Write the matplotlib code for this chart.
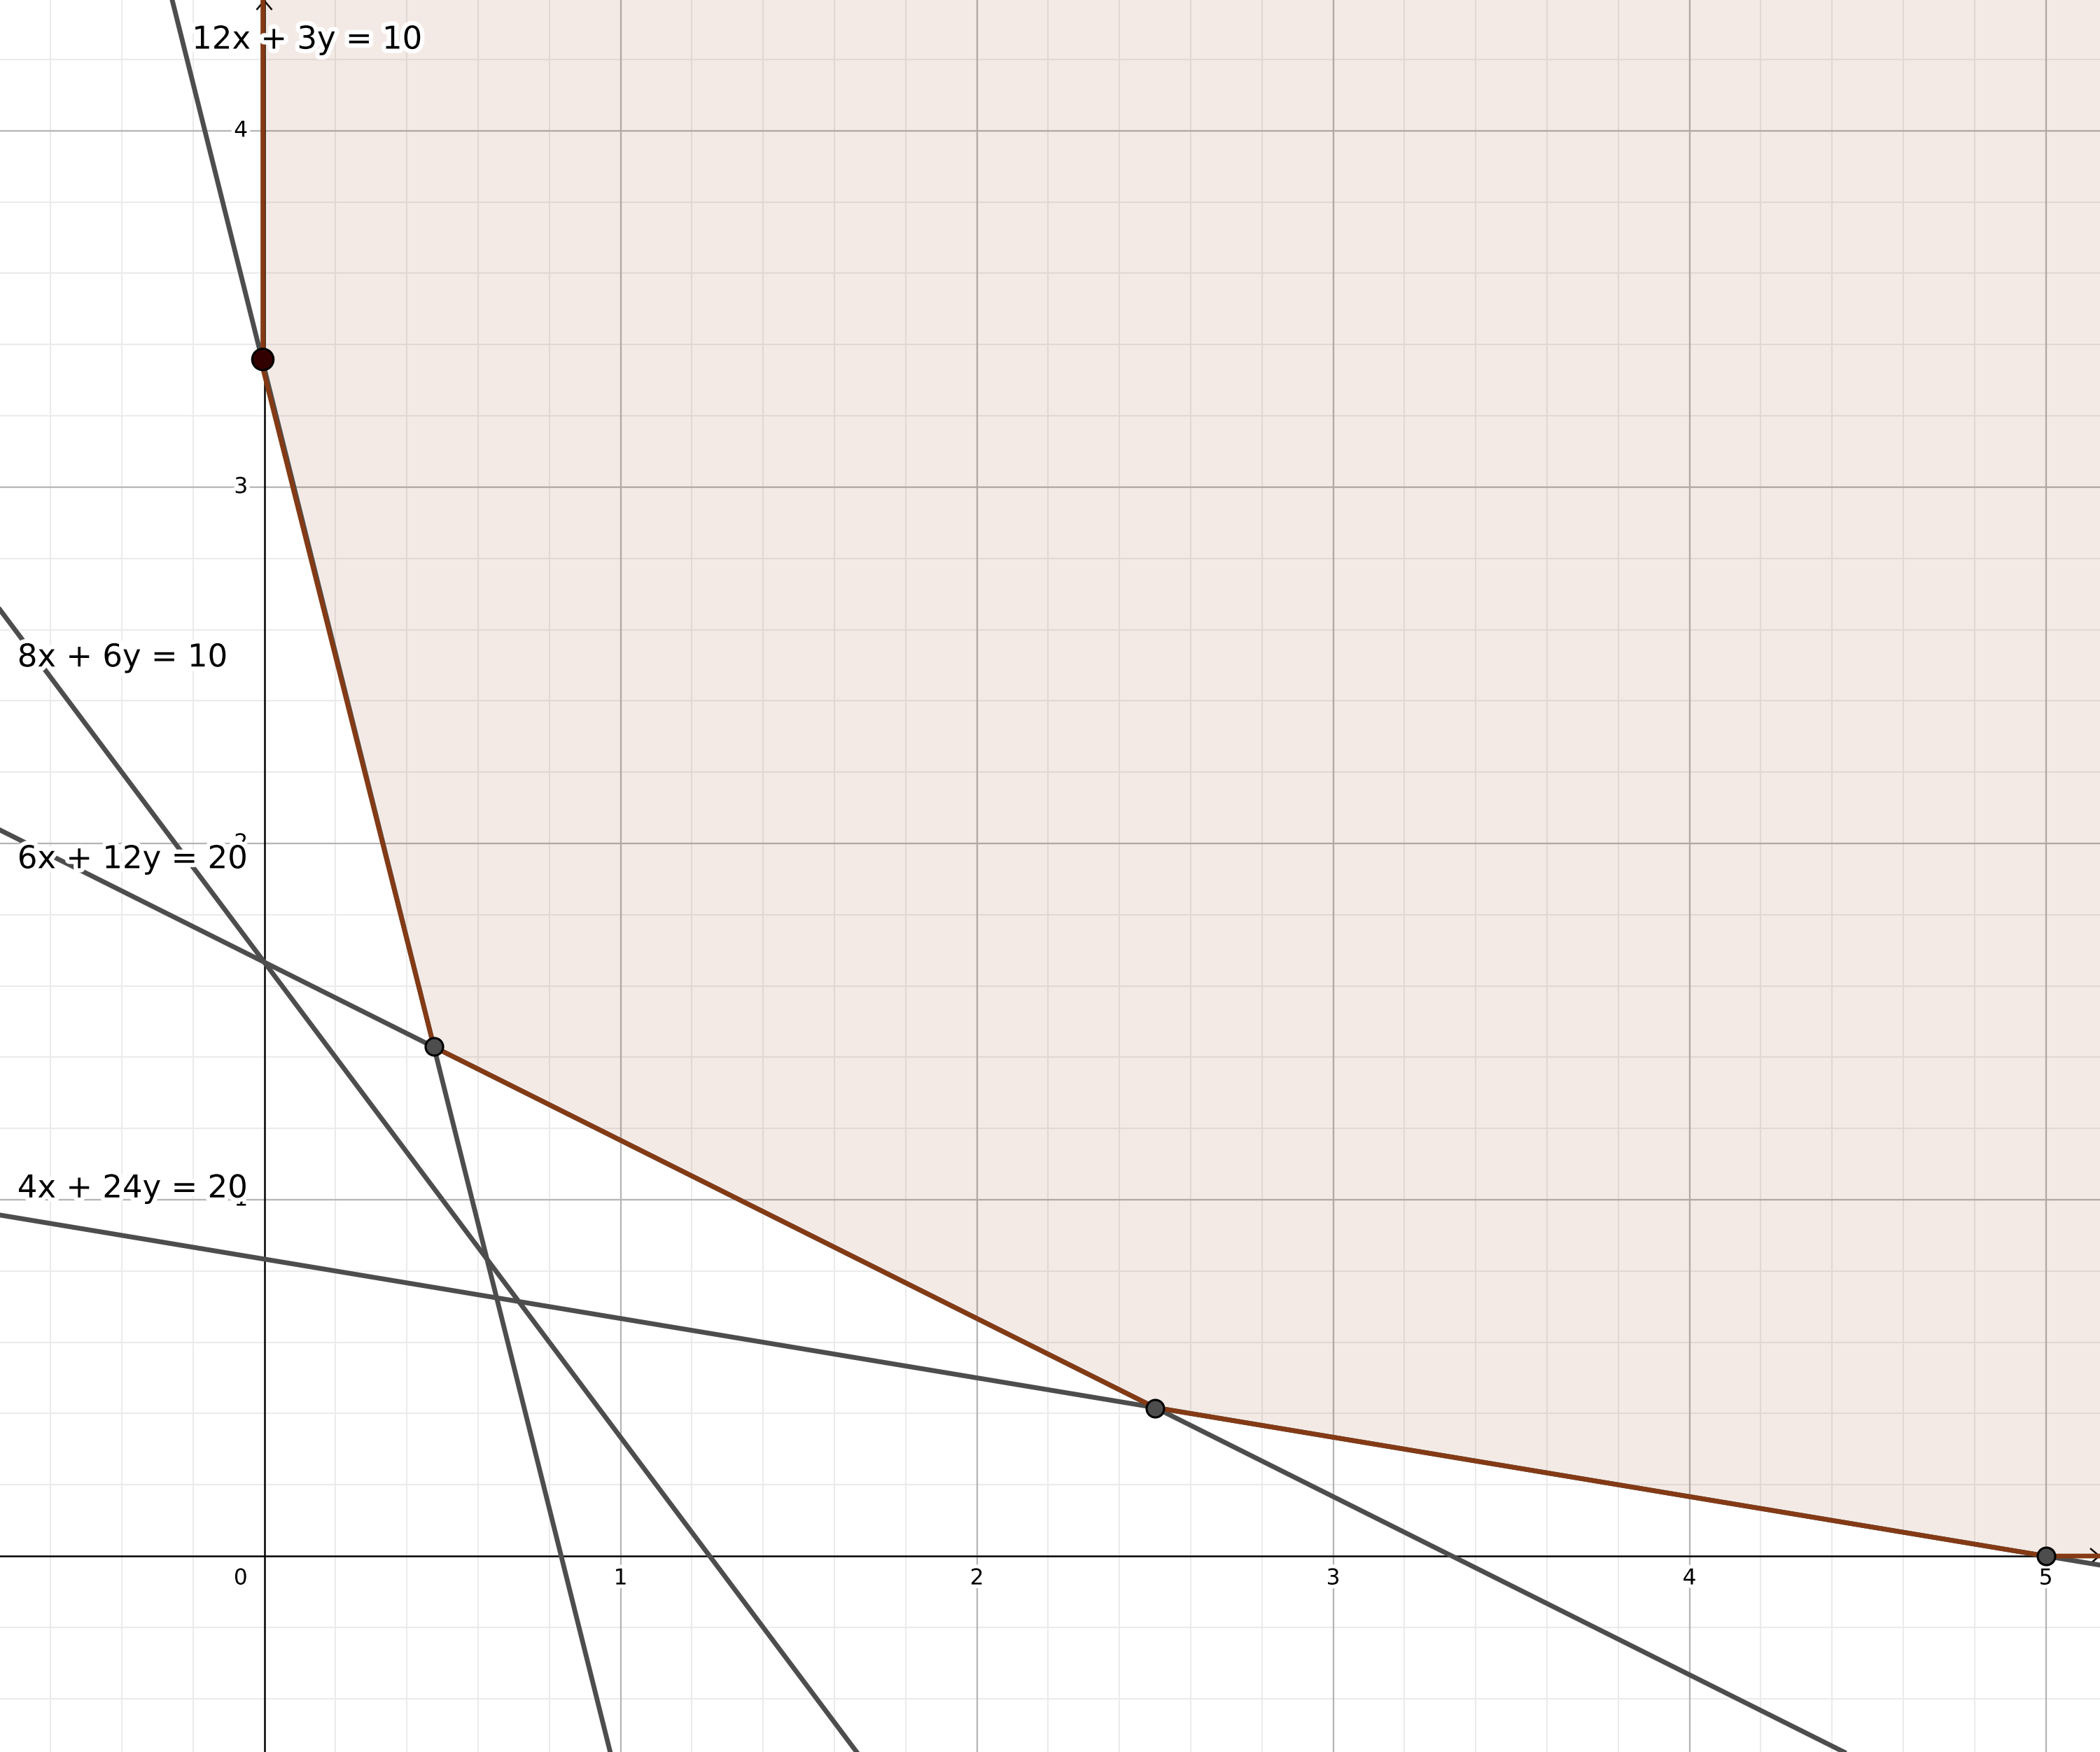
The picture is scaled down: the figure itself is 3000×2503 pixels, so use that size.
import numpy as np
import matplotlib
matplotlib.use("Agg")
import matplotlib.pyplot as plt
import matplotlib.patheffects as pe

# ---- data ----
# constraints a*x + b*y = c
coef_a = [12, 8, 6, 4]
coef_b = [3, 6, 12, 24]
coef_c = [10, 10, 20, 20]
line_labels = ["12x + 3y = 10", "8x + 6y = 10", "6x + 12y = 20", "4x + 24y = 20"]
label_x = [-0.203, -0.693, -0.693, -0.693]
label_y = [4.255, 2.521, 1.955, 1.031]

# corner points of the feasible region
vertex_x = [0.0, 10/21, 2.5, 5.0]
vertex_y = [10/3, 10/7, 5/12, 0.0]
# marked points
point_x = [-0.005, 0.476, 2.5, 5.0]
point_y = [3.36, 1.43, 0.415, 0.0]

x_major = [0, 1, 2, 3, 4, 5]
y_major = [0, 1, 2, 3, 4]
x_minor = np.round(np.arange(-0.6, 5.2, 0.2), 2)
y_minor = np.round(np.arange(-0.4, 4.4, 0.2), 2)

xmin, xmax = -0.7417, 5.152
ymin, ymax = -0.550, 4.369

W, H = 3000, 2504
fig = plt.figure(figsize=(W / 300, H / 300), dpi=300)
ax = fig.add_axes([0, 0, 1, 1])
ax.set_xlim(xmin, xmax)
ax.set_ylim(ymin, ymax)
ax.axis("off")
px = (xmax - xmin) / W  # one pixel in data units

# grid
for v in x_minor:
    if v not in x_major:
        ax.axvline(v, color="#ebebeb", lw=0.5, zorder=0)
for v in y_minor:
    if v not in y_major:
        ax.axhline(v, color="#ebebeb", lw=0.5, zorder=0)
for v in x_major:
    if v != 0:
        ax.axvline(v, color="#b5b5b5", lw=0.55, zorder=0.5)
for v in y_major:
    if v != 0:
        ax.axhline(v, color="#b5b5b5", lw=0.55, zorder=0.5)

# axes lines with chevrons
ax.axhline(0, color="black", lw=0.6, zorder=1)
ax.axvline(0, color="black", lw=0.6, zorder=1)
ax.plot([-11 * px, 0, 11 * px], [ymax - 15 * px, ymax - 2 * px, ymax - 15 * px],
        color="black", lw=0.6, zorder=1, solid_capstyle="butt")
ax.plot([xmax - 14 * px, xmax - 1 * px, xmax - 14 * px], [11 * px, 0, -11 * px],
        color="black", lw=0.6, zorder=1, solid_capstyle="butt")

# tick labels
halo = [pe.withStroke(linewidth=2.5, foreground="white")]
for v in x_major:
    if v == 0:
        ax.annotate("0", (0, 0), xytext=(-8.1, -7.7), textcoords="offset points",
                    ha="center", va="center", fontsize=7.5, path_effects=halo, zorder=2)
    else:
        ax.annotate(str(v), (v, 0), xytext=(0, -7.7), textcoords="offset points",
                    ha="center", va="center", fontsize=7.5, path_effects=halo, zorder=2)
for v in y_major:
    if v != 0:
        ax.annotate(str(v), (0, v), xytext=(-5.6, 0), textcoords="offset points",
                    ha="right", va="center", fontsize=7.5, path_effects=halo, zorder=2)

# feasible region
big = 100
poly_x = [0, 0] + vertex_x[1:] + [big, big]
poly_y = [big, vertex_y[0]] + vertex_y[1:] + [0, big]
ax.fill(poly_x, poly_y, color="#993300", alpha=0.1, lw=0, zorder=1.5)

# constraint lines
for a, b, c in zip(coef_a, coef_b, coef_c):
    ax.axline((0, c / b), slope=-a / b, color="#4d4d4d", lw=1.65, zorder=3)

# boundary of region
bx = [-0.004, -0.004] + vertex_x[1:] + [big]
by = [big, vertex_y[0]] + vertex_y[1:] + [0]
ax.plot(bx, by, color="#843a14", lw=1.6, zorder=4, solid_joinstyle="round")

# points
ax.plot(point_x[:1], point_y[:1], "o", ms=7.3, mfc="#330000", mec="black", mew=0.75, zorder=6)
ax.plot(point_x[1:], point_y[1:], "o", ms=6.0, mfc="#4d4d4d", mec="black", mew=0.75, zorder=6)

# line labels
for t, lx, ly in zip(line_labels, label_x, label_y):
    ax.text(lx, ly, t, ha="left", va="center", fontsize=10.8,
            path_effects=[pe.withStroke(linewidth=3, foreground="white")], zorder=7)

fig.savefig("out.png", dpi=300)
